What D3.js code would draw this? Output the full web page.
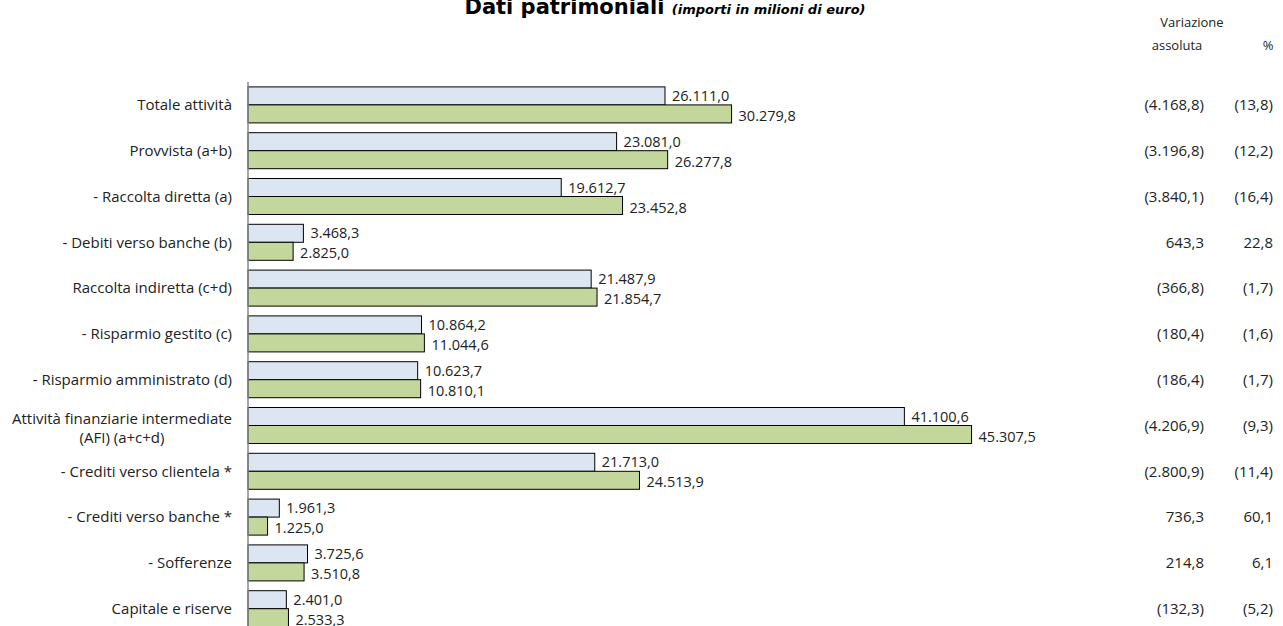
<!DOCTYPE html>
<html>
<head>
<meta charset="utf-8">
<script src="https://cdn.jsdelivr.net/npm/d3@7"></script>
<style>
  body { margin: 0; background: #fff; }
  svg { display: block; font-family: "Open Sans", "Lato", sans-serif; }
</style>
</head>
<body>
<svg id="chart" width="1283" height="626"></svg>
<script>
// categories (top to bottom)
const categories = [
    'Totale attività',
    'Provvista (a+b)',
    '- Raccolta diretta (a)',
    '- Debiti verso banche (b)',
    'Raccolta indiretta (c+d)',
    '- Risparmio gestito (c)',
    '- Risparmio amministrato (d)',
    'Attività finanziarie intermediate|(AFI) (a+c+d)',
    '- Crediti verso clientela *',
    '- Crediti verso banche *',
    '- Sofferenze',
    'Capitale e riserve'
];

// current year (light blue) and previous year (green)
const valuesCurrent = [26111.0, 23081.0, 19612.7, 3468.3, 21487.9, 10864.2, 10623.7, 41100.6, 21713.0, 1961.3, 3725.6, 2401.0];
const valuesPrevious = [30279.8, 26277.8, 23452.8, 2825.0, 21854.7, 11044.6, 10810.1, 45307.5, 24513.9, 1225.0, 3510.8, 2533.3];

// variation columns
const varAbsolute = ['(4.168,8)', '(3.196,8)', '(3.840,1)', '643,3', '(366,8)', '(180,4)', '(186,4)', '(4.206,9)', '(2.800,9)', '736,3', '214,8', '(132,3)'];
const varPercent = ['(13,8)', '(12,2)', '(16,4)', '22,8', '(1,7)', '(1,6)', '(1,7)', '(9,3)', '(11,4)', '60,1', '6,1', '(5,2)'];

const series = ['current', 'previous'];
const colors = {current: '#dce6f2', previous: '#c3d69b'};

const fmt = d3.formatLocale({decimal: ',', thousands: '.', grouping: [3], currency: ['', '€']}).format(',.1f');

const svg = d3.select('#chart');
const textColor = '#222';
const fontSize = 15;

const x = d3.scaleLinear().domain([0, 50000]).range([248, 1046.5]);
const y = d3.scaleBand().domain(categories).range([82, 631.6]).paddingInner(0.214).paddingOuter(0.107);
const ySub = d3.scaleBand().domain(series).range([0, y.bandwidth()]);

// title
const title = svg.append('text')
    .attr('x', 665).attr('y', 14)
    .attr('text-anchor', 'middle')
    .attr('fill', '#000')
    .attr('font-family', '"DejaVu Sans", sans-serif');
title.append('tspan').attr('font-size', 21).attr('font-weight', 'bold').text('Dati patrimoniali ');
title.append('tspan').attr('font-size', 13).attr('font-weight', 'bold').attr('font-style', 'italic').text('(importi in milioni di euro)');

// column headers
svg.append('text').attr('x', 1192).attr('y', 27).attr('text-anchor', 'middle')
    .attr('font-size', 13).attr('fill', textColor).text('Variazione');
svg.append('text').attr('x', 1177).attr('y', 50).attr('text-anchor', 'middle')
    .attr('font-size', 13).attr('fill', textColor).text('assoluta');
svg.append('text').attr('x', 1268).attr('y', 50).attr('text-anchor', 'middle')
    .attr('font-size', 13).attr('fill', textColor).text('%');

// bars
const groups = svg.append('g').selectAll('g')
    .data(categories.map((c, i) => ({cat: c, current: valuesCurrent[i], previous: valuesPrevious[i], i})))
    .join('g')
    .attr('transform', d => `translate(0, ${y(d.cat)})`);

groups.selectAll('rect')
    .data(d => series.map(s => ({key: s, value: d[s]})))
    .join('rect')
    .attr('x', x(0))
    .attr('y', d => ySub(d.key))
    .attr('width', d => x(d.value) - x(0))
    .attr('height', ySub.bandwidth())
    .attr('fill', d => colors[d.key])
    .attr('stroke', '#000')
    .attr('stroke-width', 1);

groups.selectAll('text.val')
    .data(d => series.map(s => ({key: s, value: d[s]})))
    .join('text')
    .attr('class', 'val')
    .attr('x', d => x(d.value) + 7)
    .attr('y', d => ySub(d.key) + ySub.bandwidth() / 2 + (d.key === 'current' ? 0 : 2))
    .attr('dy', '0.35em')
    .attr('font-size', 14.5)
    .attr('fill', textColor)
    .text(d => fmt(d.value));

// axis line
svg.append('line')
    .attr('x1', x(0)).attr('x2', x(0))
    .attr('y1', 82).attr('y2', 626)
    .attr('stroke', '#888').attr('stroke-width', 1.5);

// category labels
categories.forEach(c => {
    const lines = c.split('|');
    const cy = y(c) + y.bandwidth() / 2;
    if (lines.length === 1) {
        svg.append('text')
            .attr('x', 232).attr('y', cy).attr('dy', '0.35em')
            .attr('text-anchor', 'end').attr('font-size', fontSize).attr('fill', textColor)
            .text(c);
    } else {
        const t1 = svg.append('text')
            .attr('x', 232).attr('y', cy - 7).attr('dy', '0.35em')
            .attr('text-anchor', 'end').attr('font-size', fontSize).attr('fill', textColor)
            .text(lines[0]);
        const w = t1.node().getComputedTextLength();
        svg.append('text')
            .attr('x', 232 - w / 2).attr('y', cy + 12).attr('dy', '0.35em')
            .attr('text-anchor', 'middle').attr('font-size', fontSize).attr('fill', textColor)
            .text(lines[1]);
    }
});

// variation columns
categories.forEach((c, i) => {
    const cy = y(c) + y.bandwidth() / 2;
    svg.append('text').attr('x', 1204).attr('y', cy).attr('dy', '0.35em')
        .attr('text-anchor', 'end').attr('font-size', fontSize).attr('fill', textColor)
        .text(varAbsolute[i]);
    svg.append('text').attr('x', 1273).attr('y', cy).attr('dy', '0.35em')
        .attr('text-anchor', 'end').attr('font-size', fontSize).attr('fill', textColor)
        .text(varPercent[i]);
});
</script>
</body>
</html>
